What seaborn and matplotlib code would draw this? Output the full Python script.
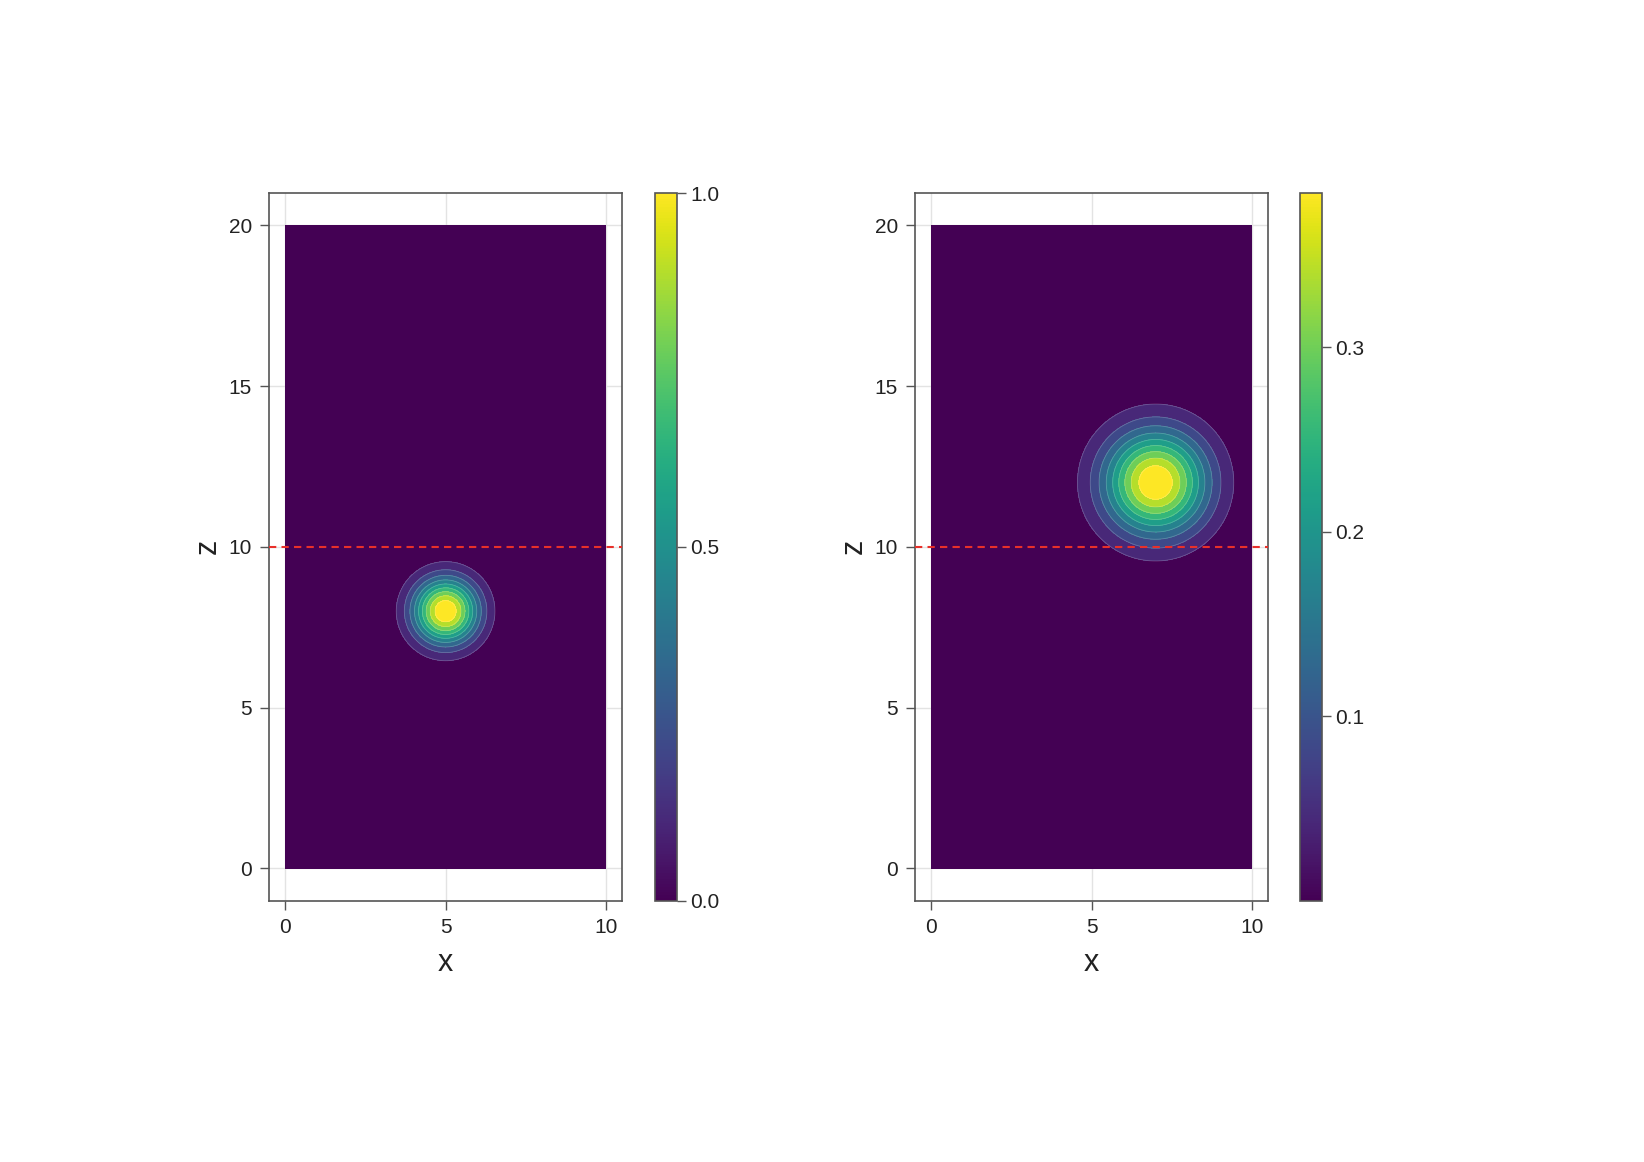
import numpy as np
import matplotlib
matplotlib.use("Agg")
import matplotlib.pyplot as plt
import matplotlib.colors as mcolors
import matplotlib.colorbar as mcolorbar
import seaborn as sns

# ─────────────────────────────────────────────────────────────
# DATA
# ─────────────────────────────────────────────────────────────
x_extent = [0.0, 10.0]
z_extent = [0.0, 20.0]
blob_x = [5.0, 7.0]          # centre of the tracer, per panel
blob_z = [8.0, 12.0]
blob_sigma = [0.718, 1.137]  # gaussian width
blob_peak = [1.0, 0.3835]    # peak value (colorbar top)
n_bands = 10
line_z = 10.0

cbar_ticks = [[0.0, 0.5, 1.0], [0.1, 0.2, 0.3]]
cbar_labels = [["0.0", "0.5", "1.0"], ["0.1", "0.2", "0.3"]]
x_ticks = [0, 5, 10]
z_ticks = [0, 5, 10, 15, 20]

# ─────────────────────────────────────────────────────────────
# STYLE
# ─────────────────────────────────────────────────────────────
sns.set_style("white")
plt.rcParams["font.family"] = ["Liberation Sans", "DejaVu Sans"]
SPINE = "#555555"
GRID = "#e3e3e3"
band_colors = sns.color_palette("viridis", as_cmap=True)(np.linspace(0, 1, n_bands))

fig = plt.figure(figsize=(16.44, 11.62), dpi=100)

ax_boxes = [[0.1639, 0.2249, 0.2143, 0.609], [0.5568, 0.2249, 0.2143, 0.609]]
cb_boxes = [[0.3986, 0.2249, 0.0134, 0.609], [0.7908, 0.2249, 0.0134, 0.609]]

xg = np.linspace(x_extent[0], x_extent[1], 401)
zg = np.linspace(z_extent[0], z_extent[1], 801)
X, Z = np.meshgrid(xg, zg)

for i in range(2):
    ax = fig.add_axes(ax_boxes[i])
    r2 = (X - blob_x[i]) ** 2 + (Z - blob_z[i]) ** 2
    field = blob_peak[i] * np.exp(-r2 / (2 * blob_sigma[i] ** 2))
    levels = np.linspace(0, blob_peak[i], n_bands + 1)
    levels[-1] = blob_peak[i] * 1.0001

    # grid behind the field
    for t in x_ticks:
        ax.axvline(t, color=GRID, lw=1.0, zorder=0)
    for t in z_ticks:
        ax.axhline(t, color=GRID, lw=1.0, zorder=0)

    ax.contourf(X, Z, field, levels=levels, colors=band_colors, zorder=1)
    ax.contour(X, Z, field, levels=levels[1:-1], colors="white",
               linewidths=0.6, alpha=0.22, zorder=2)
    ax.axhline(line_z, color="#e8302a", lw=1.5, ls=(0, (3.5, 2.5)), zorder=3)

    ax.set_xlim(-0.5, 10.5)
    ax.set_ylim(-1.0, 21.0)
    ax.set_xticks(x_ticks)
    ax.set_yticks(z_ticks)
    ax.set_xticklabels([str(t) for t in x_ticks])
    ax.set_yticklabels([str(t) for t in z_ticks])
    ax.tick_params(axis="both", direction="out", length=6.5, width=1.0,
                   color=SPINE, labelsize=15, pad=6, labelcolor="#222222")
    ax.tick_params(axis="x", bottom=True, top=False)
    ax.tick_params(axis="y", left=True, right=False)
    for s in ax.spines.values():
        s.set_color(SPINE)
        s.set_linewidth(1.2)
    ax.set_xlabel("x", fontsize=22, labelpad=8, color="#222222")
    ax.set_ylabel("z", fontsize=22, labelpad=4, color="#222222")

    cax = fig.add_axes(cb_boxes[i])
    cb = mcolorbar.ColorbarBase(
        cax, cmap=sns.color_palette("viridis", as_cmap=True),
        norm=mcolors.Normalize(0, blob_peak[i]), orientation="vertical")
    cb.set_ticks(cbar_ticks[i])
    cb.set_ticklabels(cbar_labels[i])
    cb.outline.set_edgecolor(SPINE)
    cb.outline.set_linewidth(1.2)
    cax.tick_params(direction="out", length=6.5, width=1.0, color=SPINE,
                    labelsize=15, pad=3, labelcolor="#222222")

fig.savefig("out.png", dpi=100)
plt.close(fig)
